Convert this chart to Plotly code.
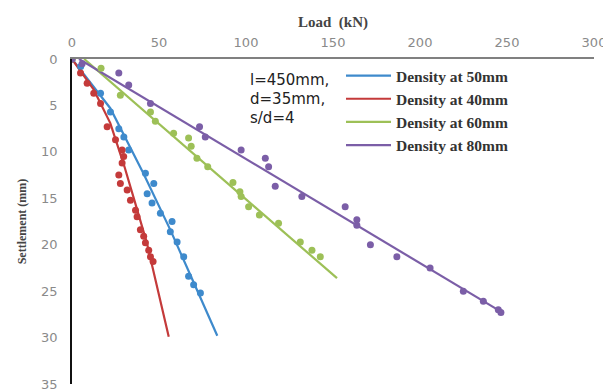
import plotly.graph_objects as go

# ---- data ----
series_names = ["Density at 50mm", "Density at 40mm", "Density at 60mm", "Density at 80mm"]

blue_load = [0, 5, 16.4, 22.1, 26.9, 29.8, 32.6, 42.2, 47.0, 43.2, 46.0, 50.8, 57.5, 56.5, 60.4, 64.2, 67.0, 69.9, 73.8]
blue_settle = [0, 0.8, 3.7, 5.7, 7.5, 8.4, 9.8, 12.3, 13.4, 14.5, 15.5, 16.6, 17.5, 18.6, 19.7, 21.3, 23.4, 24.3, 25.2]

red_load = [0, 4.9, 8.7, 12.5, 16.4, 20.2, 25.0, 28.8, 29.7, 28.8, 26.9, 27.8, 31.7, 33.6, 36.5, 37.4, 39.3, 41.2, 42.2, 44.1, 45.1, 46.6]
red_settle = [0, 1.5, 2.6, 3.7, 4.8, 7.3, 8.7, 9.8, 10.5, 11.2, 12.5, 13.4, 14.1, 15.2, 16.3, 17.0, 18.4, 19.1, 19.8, 20.6, 21.3, 21.8]

green_load = [0, 16.7, 27.8, 45.1, 47.9, 58.4, 67.0, 68.5, 71.8, 78.0, 92.5, 96.5, 97.2, 101.5, 107.7, 118.7, 131.2, 137.9, 142.7]
green_settle = [0, 1.0, 3.9, 5.7, 6.7, 8.0, 8.5, 9.4, 10.7, 11.6, 13.3, 14.3, 14.8, 15.9, 16.8, 17.7, 19.7, 20.6, 21.3]

purple_load = [0, 5.8, 26.9, 32.6, 45.1, 73.3, 76.6, 97.2, 111.1, 113.0, 116.8, 132.1, 157.0, 163.7, 163.7, 171.5, 186.7, 205.8, 224.9, 236.4, 245.0, 246.5]
purple_settle = [0, 0.5, 1.5, 2.8, 4.8, 7.3, 8.4, 9.8, 10.7, 11.6, 13.7, 14.8, 15.9, 17.3, 17.9, 20.0, 21.3, 22.5, 25.0, 26.1, 27.0, 27.3]

# trend lines
blue_fit_load = [0, 22, 41, 56.5, 70, 83.5]
blue_fit_settle = [0, 5.3, 12.3, 18.4, 24.1, 29.8]
red_fit_load = [0, 12.5, 22, 30, 36, 43, 55.6]
red_fit_settle = [0, 3.3, 6.9, 11.5, 15.3, 19.8, 29.9]
green_fit_load = [7, 152.3]
green_fit_settle = [0, 23.6]
purple_fit_load = [4, 246.5]
purple_fit_settle = [0, 27.2]

x_ticks = [0, 50, 100, 150, 200, 250, 300]
y_ticks = [0, 5, 10, 15, 20, 25, 30, 35]
note_lines = ["l=450mm,", "d=35mm,", "s/d=4"]

colors = ["#3E8ACC", "#C43A3A", "#9DC057", "#7B5EA7"]

pts = [(blue_load, blue_settle), (red_load, red_settle), (green_load, green_settle), (purple_load, purple_settle)]
fits = [(blue_fit_load, blue_fit_settle), (red_fit_load, red_fit_settle),
        (green_fit_load, green_fit_settle), (purple_fit_load, purple_fit_settle)]

# the page body has an 8px margin, so the figure is shifted by 8px
OFF = 8
W, H = 611 - OFF, 389 - OFF
ML, MR, MT, MB = 72 - OFF, 17, 59 - OFF, 5

fig = go.Figure()
for name, col, (fx, fy) in zip(series_names, colors, fits):
    fig.add_trace(go.Scatter(x=fx, y=fy, mode="lines", name=name,
                             line=dict(color=col, width=2.2), showlegend=True))
for name, col, (px, py) in zip(series_names, colors, pts):
    fig.add_trace(go.Scatter(x=px, y=py, mode="markers", name=name,
                             marker=dict(color=col, size=7), showlegend=False))

pw = W - ML - MR
ph = H - MT - MB

fig.update_layout(
    width=W, height=H,
    margin=dict(l=ML, r=MR, t=MT, b=MB),
    paper_bgcolor="white", plot_bgcolor="white",
    showlegend=True,
    legend=dict(x=(341 - 72) / pw, y=1.0, xanchor="left", yanchor="top",
                bgcolor="rgba(0,0,0,0)",
                font=dict(family="Liberation Serif", size=15.5, color="#333333", weight="bold"),
                tracegroupgap=0, itemwidth=45),
    xaxis=dict(side="top", range=[0, 300], tickvals=x_ticks, ticktext=[str(v) for v in x_ticks],
               automargin=False, ticklabeloverflow="allow",
               showgrid=False, zeroline=False, showline=True, linecolor="#808080", linewidth=1.5,
               ticks="", ticklabelstandoff=5,
               tickfont=dict(family="DejaVu Sans", size=13, color="#8a8a8a"),
               title=dict(text="<b>Load  (kN)</b>", standoff=4,
                          font=dict(family="Liberation Serif", size=15, color="#444444"))),
    yaxis=dict(range=[35, 0], tickvals=y_ticks, ticktext=[str(v) for v in y_ticks],
               automargin=False, ticklabeloverflow="allow",
               showgrid=False, zeroline=False, showline=True, linecolor="#111111", linewidth=1.5,
               ticks="", ticklabelstandoff=10,
               tickfont=dict(family="DejaVu Sans", size=13, color="#8a8a8a"),
               title=dict(text="<b>Settlement (mm)</b>", standoff=12,
                          font=dict(family="Liberation Serif", size=12, color="#444444"))),
)

for txt, yy in zip(note_lines, [80, 99.3, 118.3]):
    fig.add_annotation(x=(248 - 72) / pw, y=1 - (yy - 59) / ph, xref="paper", yref="paper",
                       text=txt, showarrow=False, xanchor="left", yanchor="middle",
                       font=dict(family="DejaVu Sans", size=15, color="#222222"))

fig.write_html("out.html")
